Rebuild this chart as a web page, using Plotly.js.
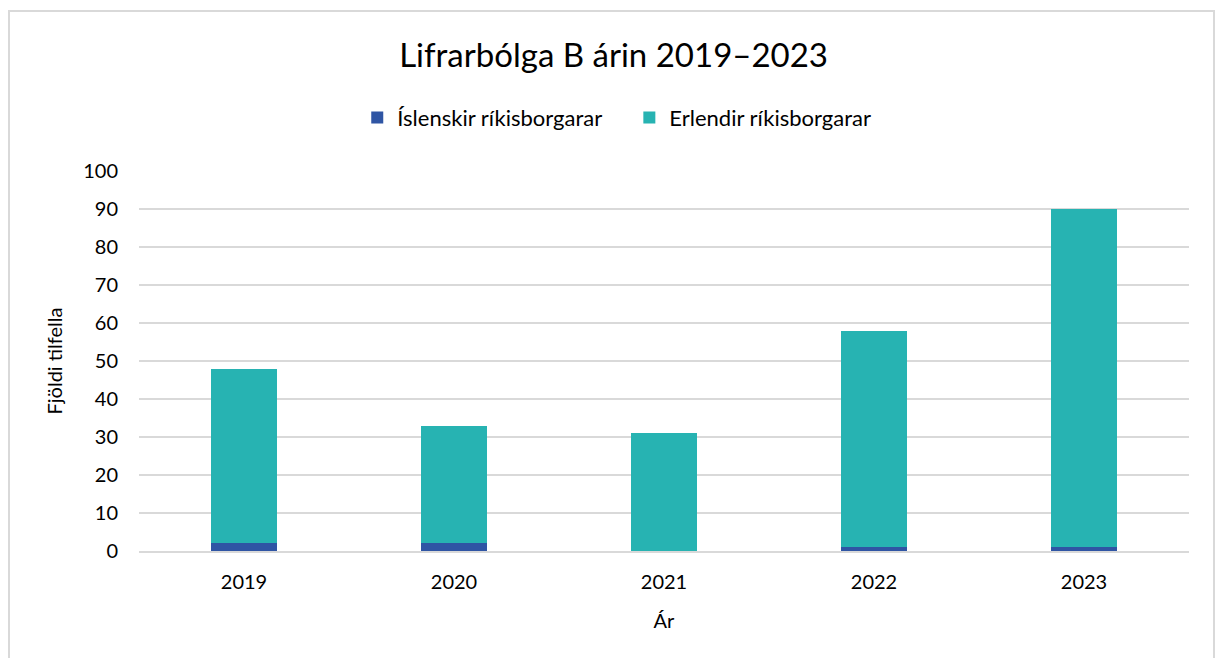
<!DOCTYPE html>
<html>
<head>
<meta charset="utf-8">
<script src="https://cdn.plot.ly/plotly-3.0.1.min.js"></script>
<style>
html,body{margin:0;padding:0;background:#fff;}
#frame{position:absolute;left:8px;top:10px;width:1203px;height:660px;border-left:2px solid #d9d9d9;border-top:2px solid #d9d9d9;border-right:2px solid #d9d9d9;pointer-events:none;}
#chart{width:1215px;height:658px;}
</style>
</head>
<body>
<div id="chart"></div>
<div id="frame"></div>
<script>
const years = ['2019', '2020', '2021', '2022', '2023'];
const icelandic = [2, 2, 0, 1, 1];
const foreign = [46, 31, 31, 57, 89];
const seriesNames = ['Íslenskir ríkisborgarar', 'Erlendir ríkisborgarar'];
const yTicks = [0, 10, 20, 30, 40, 50, 60, 70, 80, 90, 100];

const font = 'Lato, "Open Sans", sans-serif';

const data = [
  {type: 'bar', x: years, y: icelandic, name: seriesNames[0] + '\u2003 ', marker: {color: '#2f55a4'}, hoverinfo: 'x+y+name'},
  {type: 'bar', x: years, y: foreign, name: seriesNames[1], marker: {color: '#27b3b2'}, hoverinfo: 'x+y+name'}
];

const layout = {
  width: 1215, height: 658,
  margin: {l: 139, r: 26, t: 171, b: 107},
  paper_bgcolor: '#fff', plot_bgcolor: '#fff',
  barmode: 'stack',
  bargap: 0.686,
  font: {family: font, color: '#000', size: 20},
  title: {text: 'Lifrarbólga B árin 2019–2023', font: {family: font, size: 33, color: '#000'}, x: 0.505, xanchor: 'center', y: 0.915, yanchor: 'middle'},
  showlegend: true,
  legend: {orientation: 'h', x: 0.455, xanchor: 'center', y: 1.14, yanchor: 'middle', font: {size: 22}, itemwidth: 20, traceorder: 'normal'},
  xaxis: {
    type: 'category',
    title: {text: 'Ár', font: {size: 20}, standoff: 22},
    showgrid: false, showline: true, linecolor: '#d9d9d9', linewidth: 2,
    ticks: '', tickfont: {size: 20}, ticklabelstandoff: 12, fixedrange: true
  },
  yaxis: {
    range: [0, 100], tickvals: yTicks, ticktext: yTicks.map(String),
    showgrid: true, gridcolor: '#d9d9d9', gridwidth: 1.3,
    zeroline: false, showline: false, ticks: '', ticklen: 0,
    tickfont: {size: 20}, ticklabelstandoff: 20,
    title: {text: 'Fjöldi tilfella', font: {size: 20}, standoff: 15},
    fixedrange: true
  }
};

Plotly.newPlot('chart', data, layout, {displayModeBar: false, staticPlot: true});
</script>
</body>
</html>
